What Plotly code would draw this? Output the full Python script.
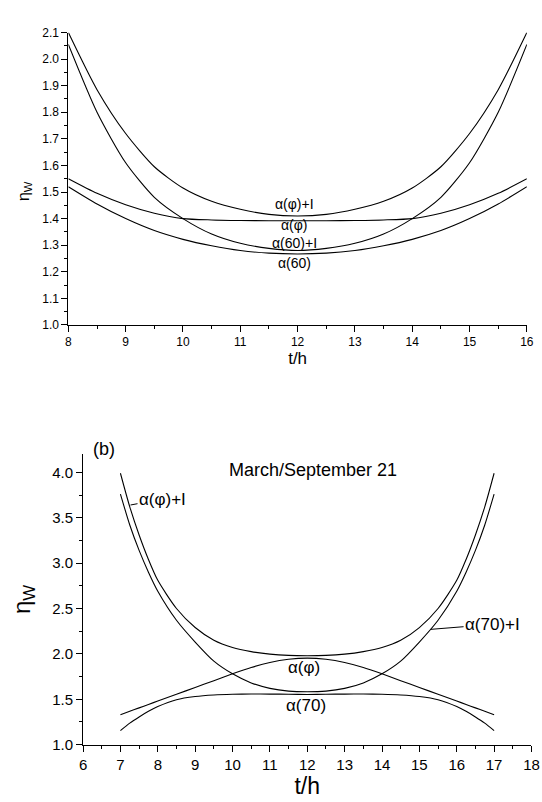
import plotly.graph_objects as go

# ---------------- data: panel (a) ----------------
hours_a = [8, 8.5, 9, 9.5, 10, 10.5, 11, 11.5, 12, 12.5, 13, 13.5, 14, 14.5, 15, 15.5, 16]
alpha_phi_I_a = [2.10, 1.885, 1.72, 1.595, 1.515, 1.465, 1.435, 1.416, 1.41,
                 1.416, 1.435, 1.465, 1.515, 1.595, 1.72, 1.885, 2.10]
alpha_60_I_a = [2.055, 1.80, 1.61, 1.48, 1.40, 1.342, 1.307, 1.288, 1.28,
                1.288, 1.307, 1.342, 1.40, 1.48, 1.61, 1.80, 2.055]
alpha_phi_a = [1.550, 1.495, 1.452, 1.42, 1.40, 1.395, 1.393, 1.392, 1.392,
               1.392, 1.393, 1.395, 1.40, 1.42, 1.452, 1.495, 1.550]
alpha_60_a = [1.52, 1.455, 1.40, 1.355, 1.322, 1.298, 1.28, 1.27, 1.267,
              1.27, 1.28, 1.298, 1.322, 1.355, 1.40, 1.455, 1.52]

# ---------------- data: panel (b) ----------------
hours_b = [7, 7.25, 7.5, 7.75, 8, 8.5, 9, 9.5, 10, 10.5, 11, 11.5, 12,
           12.5, 13, 13.5, 14, 14.5, 15, 15.5, 16, 16.25, 16.5, 16.75, 17]
alpha_phi_I_b = [3.99, 3.62, 3.31, 3.04, 2.81, 2.50, 2.29, 2.15, 2.07, 2.025, 1.997, 1.983, 1.98,
                 1.983, 1.997, 2.025, 2.07, 2.15, 2.29, 2.50, 2.81, 3.04, 3.31, 3.62, 3.99]
alpha_70_I_b = [3.76, 3.42, 3.14, 2.90, 2.69, 2.37, 2.13, 1.92, 1.78, 1.68, 1.62, 1.59, 1.583,
                1.59, 1.62, 1.68, 1.78, 1.92, 2.13, 2.37, 2.69, 2.90, 3.14, 3.42, 3.76]
alpha_phi_b = [1.33, 1.368, 1.405, 1.443, 1.48, 1.555, 1.63, 1.705, 1.78, 1.85, 1.905, 1.94, 1.953,
               1.94, 1.905, 1.85, 1.78, 1.705, 1.63, 1.555, 1.48, 1.443, 1.405, 1.368, 1.33]
alpha_70_b = [1.155, 1.237, 1.305, 1.367, 1.42, 1.495, 1.53, 1.547, 1.555, 1.558, 1.557, 1.555, 1.553,
              1.555, 1.557, 1.558, 1.555, 1.547, 1.53, 1.495, 1.42, 1.367, 1.305, 1.237, 1.155]

x_ticks_a = list(range(8, 17))
x_ticks_b = list(range(6, 19))

FONT = "Liberation Sans, Arial, sans-serif"
W, H = 542, 802

fig = go.Figure()

line_style = dict(color="black", width=1.1, shape="spline", smoothing=0.7)

for name, ys in [("α(φ)+I", alpha_phi_I_a), ("α(60)+I", alpha_60_I_a),
                 ("α(φ)", alpha_phi_a), ("α(60)", alpha_60_a)]:
    fig.add_trace(go.Scatter(x=hours_a, y=ys, mode="lines", name=name,
                             line=line_style, xaxis="x", yaxis="y", showlegend=False))

for name, ys in [("α(φ)+I", alpha_phi_I_b), ("α(70)+I", alpha_70_I_b),
                 ("α(φ)", alpha_phi_b), ("α(70)", alpha_70_b)]:
    fig.add_trace(go.Scatter(x=hours_b, y=ys, mode="lines", name=name,
                             line=line_style, xaxis="x2", yaxis="y2", showlegend=False))

def px_x(p):
    return p / W

def px_y(p):
    return 1 - p / H

axis_common = dict(showline=True, linecolor="black", linewidth=1, ticks="outside",
                   tickcolor="black", tickwidth=1, showgrid=False, zeroline=False,
                   mirror=False)

fig.update_layout(
    width=W, height=H, autosize=False,
    margin=dict(l=0, r=0, t=0, b=0),
    paper_bgcolor="white", plot_bgcolor="white",
    font=dict(family=FONT, color="black"),
    xaxis=dict(**axis_common, domain=[px_x(65.7), px_x(533.7)], range=[8, 16],
               tickvals=x_ticks_a, ticklen=6, tickfont=dict(size=12),
               minor=dict(dtick=0.5, tick0=8, ticklen=3, ticks="outside", tickcolor="black", showgrid=False),
               title=dict(text="t/h", font=dict(size=17), standoff=3),
               anchor="y"),
    yaxis=dict(**axis_common, domain=[px_y(324), px_y(26)], range=[1.0, 2.1],
               dtick=0.1, tick0=1.0, tickformat=".1f", ticklen=6, tickfont=dict(size=12),
               minor=dict(dtick=0.05, tick0=1.0, ticklen=3, ticks="outside", tickcolor="black", showgrid=False),
               anchor="x"),
    xaxis2=dict(**axis_common, domain=[px_x(80.7), px_x(538.4)], range=[6, 18],
                tickvals=x_ticks_b, ticklen=6, tickfont=dict(size=15),
                minor=dict(dtick=0.5, tick0=6, ticklen=3, ticks="outside", tickcolor="black", showgrid=False),
                title=dict(text="t/h", font=dict(size=23), standoff=1),
                anchor="y2"),
    yaxis2=dict(**axis_common, domain=[px_y(751.7), px_y(455.7)], range=[1.0, 4.2],
                dtick=0.5, tick0=1.0, tickformat=".1f", ticklen=6, tickfont=dict(size=15),
                minor=dict(dtick=0.25, tick0=1.0, ticklen=3, ticks="outside", tickcolor="black", showgrid=False),
                title=dict(text="η<sub>W</sub>", font=dict(size=24), standoff=14),
                anchor="x2"),
)

ann = []
# panel (a) y title
ann.append(dict(text="η<sub>W</sub>", xref="paper", yref="paper", x=px_x(21), y=px_y(188),
                showarrow=False, textangle=-90, font=dict(size=16), xanchor="center", yanchor="middle"))
# panel (a) curve labels
for txt, yv in [("α(φ)+I", 1.456), ("α(φ)", 1.376), ("α(60)+I", 1.309), ("α(60)", 1.233)]:
    ann.append(dict(text=txt, xref="x", yref="y", x=11.95, y=yv, showarrow=False,
                    font=dict(size=14), xanchor="center", yanchor="middle"))
# panel (b)
ann.append(dict(text="(b)", xref="paper", yref="paper", x=px_x(101.7), y=px_y(450.5),
                showarrow=False, font=dict(size=18), xanchor="center", yanchor="middle"))
ann.append(dict(text="March/September 21", xref="x2", yref="y2", x=12.14, y=4.025,
                showarrow=False, font=dict(size=18), xanchor="center", yanchor="middle"))
ann.append(dict(text="α(φ)", xref="x2", yref="y2", x=11.9, y=1.847,
                showarrow=False, font=dict(size=17), xanchor="center", yanchor="middle"))
ann.append(dict(text="α(70)", xref="x2", yref="y2", x=11.96, y=1.432,
                showarrow=False, font=dict(size=17), xanchor="center", yanchor="middle"))
ann.append(dict(text="α(φ)+I", xref="x2", yref="y2", x=7.27, y=3.64,
                showarrow=True, arrowhead=0, arrowwidth=1, arrowcolor="black",
                ax=32, ay=-6, font=dict(size=17), xanchor="center", yanchor="middle"))
ann.append(dict(text="α(70)+I", xref="x2", yref="y2", x=15.3, y=2.27,
                showarrow=True, arrowhead=0, arrowwidth=1, arrowcolor="black",
                ax=62, ay=-5, font=dict(size=17), xanchor="center", yanchor="middle"))

fig.update_layout(annotations=ann)

fig.write_html("out.html",
               config={"displayModeBar": False},
               post_script="document.body.style.margin='0';document.body.style.overflow='hidden';")
